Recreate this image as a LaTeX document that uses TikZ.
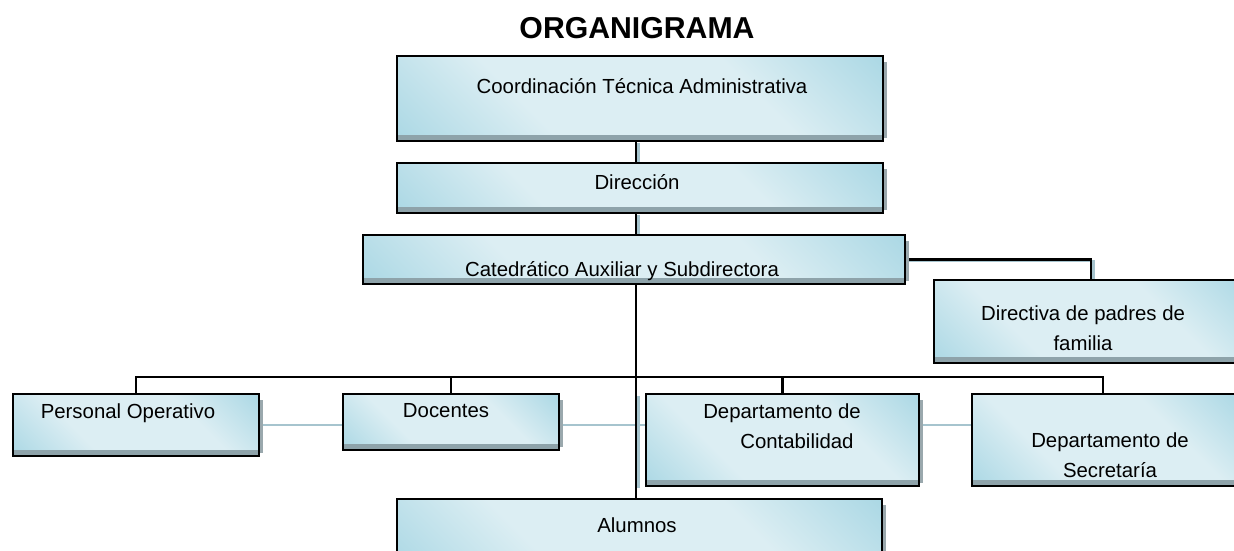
\documentclass[tikz,border=0pt]{standalone}
\usepackage{fontspec}
\setmainfont{Liberation Sans}
\usetikzlibrary{fit,backgrounds}

\definecolor{boxdark}{HTML}{88C8DA}
\definecolor{boxlight}{HTML}{DCEEF3}
\definecolor{bandgrey}{HTML}{8EA3AA}
\definecolor{shadowgrey}{HTML}{9AA8AD}
\definecolor{linkblue}{HTML}{A6C4CE}

\pgfdeclarehorizontalshading{boxsh}{100bp}{color(0bp)=(boxdark); color(35bp)=(boxlight); color(65bp)=(boxlight); color(100bp)=(boxdark)}

\tikzset{
  orgbox/.style={draw, line width=1.4pt, inner sep=0pt, outer sep=0pt, shade, shading=boxsh, shading angle=45,
    path picture={\fill[bandgrey] ([yshift=0.13cm]path picture bounding box.south west) rectangle (path picture bounding box.south east);}},
  boxshadow/.style={fill=shadowgrey},
  lbl/.style={font=\fontsize{11.6}{17}\selectfont, inner sep=0pt, align=center},
  ttl/.style={font=\bfseries\fontsize{17.2}{20}\selectfont, inner sep=0pt},
  conn/.style={draw=black, line width=1.4pt},
  connshadow/.style={draw=linkblue, line width=1.4pt, transform canvas={xshift=0.05cm, yshift=-0.035cm}},
  thinlink/.style={draw=linkblue, line width=0.6pt}
}

\def\orgbox(#1)(#2,#3)(#4,#5){%
  \fill[boxshadow] (#4,#3+6) rectangle (#4+4,#5-3);
  \node[orgbox, fit={(#2,#3) (#4,#5)}] (#1) {};
}

\begin{document}
\begin{tikzpicture}[x=0.02cm, y=-0.02cm]
			%%%%% START %%%%%
			\useasboundingbox (0,0) rectangle (1234,551);
			\clip (0,0) rectangle (1234,551);
			
			\node[ttl] (title) at (637,28) {ORGANIGRAMA};
			
			\orgbox(coord)(397,56)(883,141)
			\orgbox(dir)(397,163)(883,213)
			\orgbox(cat)(363,235)(905,284)
			\orgbox(dpf)(934,280)(1248,363)
			
			\orgbox(po)(13,394)(259,456)
			\orgbox(doc)(343,394)(559,450)
			\orgbox(cont)(646,394)(919,486)
			\orgbox(sec)(972,394)(1240,486)
			\orgbox(alu)(397,499)(882,570)
			
			\node[lbl] (tcoord) at (642,86) {Coordinación Técnica Administrativa};
			\node[lbl] (tdir) at (637,182) {Dirección};
			\node[lbl] (tcat) at (622,271) {Catedrático Auxiliar y Subdirectora};
			\node[lbl] (tdpf) at (1083,328) {Directiva de padres de\\familia};
			\node[lbl] (tpo) at (128,413) {Personal Operativo};
			\node[lbl] (tdoc) at (446,411) {Docentes};
			\node[lbl] (tcont) at (782,426) {Departamento de\\\hspace*{17pt}Contabilidad};
			\node[lbl] (tsec) at (1110,455) {Departamento de\\Secretaría};
			\node[lbl] (talu) at (637,525) {Alumnos};
			
			\coordinate (spine) at (636,0);
			\coordinate (bus) at (0,377);
			\coordinate (dpfdrop) at (1091,0);
			\coordinate (secdrop) at (1103,0);
			
			\begin{pgfonlayer}{background}
			\draw[thinlink] (po.east) -- (po.east -| sec.west);
			
			\draw[connshadow] (coord.south -| spine) -- (dir.north -| spine);
			\draw[connshadow] (dir.south -| spine) -- (cat.north -| spine);
			\draw[connshadow] (cat.east) -| (dpf.north -| dpfdrop);
			\draw[connshadow] (cont.north -| spine) -- (cont.south -| spine);
			
			\draw[conn] (coord.south -| spine) -- (dir.north -| spine);
			\draw[conn] (dir.south -| spine) -- (cat.north -| spine);
			\draw[conn] (cat.east) -| (dpf.north -| dpfdrop);
			\draw[conn] (cat.south -| spine) -- (alu.north -| spine);
			
			\draw[conn] (po.north) |- (bus -| secdrop) -- (sec.north -| secdrop);
			\draw[conn] (doc.north) -- (doc.north |- bus);
			\draw[conn] (cont.north) -- (cont.north |- bus);
			\end{pgfonlayer}
			
			%%%%% END %%%%%
\end{tikzpicture}
\end{document}
